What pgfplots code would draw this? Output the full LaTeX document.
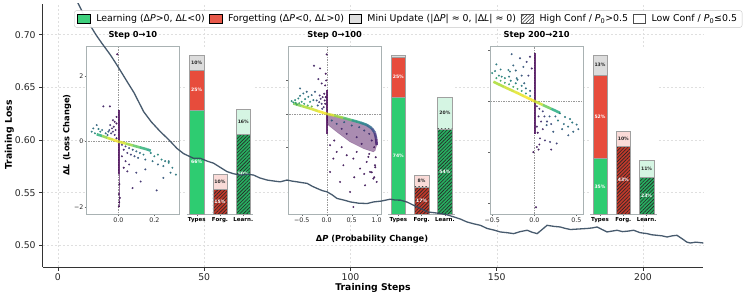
\documentclass[border=0pt]{standalone}
\usepackage{pgfplots}
\pgfplotsset{compat=1.18}
\usepackage{fontspec}
\setmainfont{DejaVu Sans}
\usetikzlibrary{patterns.meta}
\definecolor{cgreen}{HTML}{2ECC71}
\definecolor{cred}{HTML}{E74C3C}
\definecolor{cgray}{HTML}{DCDCDC}
\definecolor{lred}{HTML}{FADBD8}
\definecolor{lgreen}{HTML}{D5F5E3}
\definecolor{dred}{HTML}{C0392B}
\definecolor{dgreen}{HTML}{27AE60}
\definecolor{curvec}{HTML}{34495E}
\definecolor{framec}{HTML}{A9B2B3}
\definecolor{edgec}{HTML}{A0A0A0}
\definecolor{vpurple}{RGB}{68,1,84}
\pgfplotsset{
  inscat/.style={scale only axis, anchor=south west, height=167.3pt,
    axis background/.style={fill=white},
    axis line style={draw=framec, line width=0.9pt},
    tick style={draw=black!60, line width=0.4pt}, tick align=outside, major tick length=2pt, tick pos=left,
    ticklabel style={font=\fontsize{6.3}{7}\selectfont, text=black!85, inner sep=1.2pt},
    colormap={vir}{rgb255=(68,1,84) rgb255=(71,44,122) rgb255=(59,81,139) rgb255=(44,113,142) rgb255=(33,144,141) rgb255=(39,173,129) rgb255=(92,200,99) rgb255=(170,220,50) rgb255=(253,231,37)},
    point meta min=0, point meta max=1,
    title style={font=\bfseries\fontsize{8.3}{10}\selectfont, inner sep=1pt, yshift=0.5pt}},
  insbar/.style={scale only axis, anchor=south west, height=167.3pt, width=66.6pt,
    xmin=-0.43, xmax=2.43, ymin=0, ymax=105.2,
    axis background/.style={fill=white},
    axis x line*=bottom, axis y line=none,
    axis line style={draw=framec, line width=0.9pt},
    xtick={0,1,2}, xticklabels={Types,Forg.,Learn.},
    xticklabel style={font=\bfseries\fontsize{5.5}{6}\selectfont, inner sep=1.2pt},
    tick style={draw=black!60, line width=0.4pt}, tick align=outside, major tick length=2pt},
  mybar/.style={ybar, bar width=0.62, bar shift=0pt, draw=edgec, line width=0.5pt},
  hatch/.style={postaction={pattern={Lines[angle=45,distance=2.5pt,line width=0.6pt]}, pattern color=black!85}},
  scat/.style={scatter, only marks, mark=*, mark size=0.8pt, scatter src=explicit, opacity=0.8},
  band/.style={mesh, point meta=explicit, line width=2.6pt, opacity=0.85},
  zline/.style={draw=gray!80, dash pattern=on 1.5pt off 1pt, line width=0.4pt},
}
\tikzset{pw/.style={font=\bfseries\fontsize{4.6}{5}\selectfont, text=white, inner sep=0pt},
         pk/.style={font=\bfseries\fontsize{4.6}{5}\selectfont, text=black!85, inner sep=0pt}}
\begin{document}
\begin{tikzpicture}[x=1pt,y=1pt]
\useasboundingbox (0,0) rectangle (753,298);
% ---------- main axis (background) ----------
\begin{axis}[at={(42.7pt,31pt)}, anchor=south west, scale only axis, width=660.6pt, height=263pt,
  xmin=-5.2, xmax=220.6, ymin=0.4794, ymax=0.7292,
  axis x line*=bottom, axis y line*=left,
  axis line style={draw=black!80, line width=0.8pt},
  xtick={0,50,100,150,200}, xticklabels={0,50,100,150,200},
  ytick={0.5,0.55,0.6,0.65,0.7}, yticklabels={0.50,0.55,0.60,0.65,0.70},
  tick style={draw=black!80, line width=0.8pt}, tick align=outside, major tick length=3.5pt,
  ticklabel style={font=\fontsize{9.3}{11}\selectfont, text=black!85},
  grid=major, major grid style={draw=gray!25, dash pattern=on 2pt off 2pt, line width=0.5pt}]
\end{axis}
\node[rotate=90, font=\bfseries\fontsize{9.3}{11}\selectfont] at (9.3,163) {Training Loss};
\node[font=\bfseries\fontsize{9.3}{11}\selectfont] at (373,9.7) {Training Steps};
% ---------- inset 1 scatter ----------
\begin{axis}[inscat, at={(86.7pt,84pt)}, width=92.3pt,
  xmin=-0.1756, xmax=0.337, ymin=-2.21, ymax=2.89,
  xtick={0,0.2}, xticklabels={0.0,0.2}, ytick={-2,0,2}, yticklabels={−2,0,2},
  title={Step 0→10}]
\addplot[zline] coordinates {(-1,0) (1,0)};
\addplot[zline] coordinates {(0,-5) (0,5)};
\addplot[draw=vpurple, line width=1.8pt, opacity=0.8] coordinates {(0.004,0.95) (0.004,-1.0)};
\addplot[draw=vpurple, line width=1.0pt, opacity=0.6] coordinates {(0.004,-1.0) (0.004,-2.0)};
\addplot[band] table[meta index=2] {
x y c
-0.12 0.22 0.55
-0.09 0.17 0.75
-0.06 0.11 0.9
-0.03 0.055 0.97
0 0 1.0
0.04 -0.06 0.9
0.08 -0.12 0.8
0.12 -0.18 0.7
0.16 -0.24 0.6
0.18 -0.28 0.55
};
\addplot[scat] table[meta index=2] {
x y c
-0.006 2.66 0.02
-0.01 0.1 0.1
-0.02 0.2 0.12
-0.015 0.35 0.08
-0.03 0.3 0.15
-0.04 0.25 0.2
-0.025 0.45 0.1
-0.035 0.4 0.12
-0.05 0.35 0.25
-0.045 0.5 0.15
-0.01 0.55 0.05
-0.02 0.6 0.06
-0.055 0.3 0.3
-0.06 0.2 0.35
-0.07 0.25 0.4
-0.083 1.07 0.1
-0.047 1.07 0.08
-0.01 0.75 0.05
-0.03 0.65 0.1
-0.148 0.3 0.45
-0.139 0.4 0.4
-0.12 0.5 0.35
-0.1 0.3 0.5
-0.13 0.25 0.55
-0.11 0.38 0.45
-0.09 0.35 0.4
0.02 -0.1 0.15
0.04 -0.15 0.2
0.03 -0.25 0.1
0.06 -0.2 0.25
0.05 -0.35 0.15
0.08 -0.25 0.3
0.07 -0.4 0.2
0.1 -0.3 0.35
0.09 -0.45 0.25
0.12 -0.35 0.4
0.11 -0.5 0.3
0.14 -0.4 0.45
0.15 -0.55 0.35
0.02 -0.45 0.08
0.04 -0.6 0.1
0.06 -0.7 0.12
0.03 -0.8 0.06
0.18 -0.35 0.5
0.2 -0.45 0.5
0.22 -0.4 0.55
0.24 -0.55 0.5
0.26 -0.6 0.45
0.28 -0.65 0.5
0.3 -0.8 0.45
0.25 -0.75 0.4
0.32 -1.01 0.45
0.29 -0.95 0.4
0.22 -0.7 0.35
0.19 -0.6 0.4
0.213 -1.49 0.2
0.124 -1.22 0.15
0.05 -0.91 0.1
0.079 -1.42 0.1
0.25 -1.11 0.3
0.28 -0.6 0.45
0.009 -1.72 0.05
0.1 -0.95 0.2
0.15 -0.85 0.25
0.006 -1.3 0.03
0.003 -1.6 0.03
0.005 -1.85 0.02
0.003 -1.98 0.02
};
\end{axis}
% ---------- inset 1 bars ----------
\begin{axis}[insbar, at={(186.7pt,84pt)}]
\addplot[mybar, fill=cgray] coordinates {(0,100)};
\addplot[mybar, fill=cred] coordinates {(0,90.2)};
\addplot[mybar, fill=cgreen] coordinates {(0,65.5)};
\addplot[mybar, fill=lred] coordinates {(1,25.1)};
\addplot[mybar, fill=dred, hatch] coordinates {(1,15.3)};
\addplot[mybar, fill=lgreen] coordinates {(2,65.9)};
\addplot[mybar, fill=dgreen, hatch] coordinates {(2,50.2)};
\node[pw] at (axis cs:0,32.75) {66\%};
\node[pw] at (axis cs:0,77.85) {25\%};
\node[pk] at (axis cs:0,95.1) {10\%};
\node[pw] at (axis cs:1,7.65) {15\%};
\node[pk] at (axis cs:1,20.2) {10\%};
\node[pw] at (axis cs:2,25.1) {50\%};
\node[pk] at (axis cs:2,58.05) {16\%};
\end{axis}
% ---------- inset 2 scatter ----------
\begin{axis}[inscat, at={(288.3pt,84pt)}, width=92.7pt,
  xmin=-0.768, xmax=1.086, ymin=-3.0, ymax=2.01,
  xtick={-0.5,0,0.5,1}, xticklabels={−0.5,0.0,0.5,1.0}, ytick={-2,-1,0,1}, yticklabels={},
  title={Step 0→100}]
\addplot[zline] coordinates {(-2,0) (2,0)};
\addplot[zline] coordinates {(0,-5) (0,5)};
\addplot[fill=vpurple, fill opacity=0.45, draw=vpurple, draw opacity=0.3] coordinates {
(0.013,-0.02) (0.333,-0.12) (0.6,-0.22) (0.8,-0.32) (0.933,-0.49) (0.987,-0.69) (1.0,-0.94)
(0.97,-1.1) (0.933,-1.14) (0.733,-1.04) (0.467,-0.84) (0.2,-0.54) (0.033,-0.34) (0,-0.14)} -- cycle;
\addplot[draw=vpurple, line width=1.6pt, opacity=0.8] coordinates {(0.005,0.71) (0.005,-0.6)};
\addplot[band] table[meta index=2] {
x y c
-0.667 0.31 0.75
-0.5 0.235 0.85
-0.33 0.16 0.92
-0.17 0.08 0.97
0 0 1
0.15 -0.05 0.9
0.33 -0.12 0.8
0.5 -0.19 0.65
0.67 -0.26 0.5
0.8 -0.33 0.4
0.9 -0.43 0.3
0.96 -0.56 0.2
0.99 -0.75 0.12
1.0 -0.94 0.05
};
\addplot[scat] table[meta index=2] {
x y c
0 1.78 0.05
-0.253 1.44 0.1
-0.133 1.36 0.08
-0.167 1.04 0.1
-0.1 0.91 0.08
-0.02 1.2 0.03
-0.01 1.0 0.04
-0.03 0.85 0.05
-0.05 0.6 0.05
-0.08 0.5 0.08
-0.12 0.45 0.12
-0.04 0.4 0.06
-0.1 0.3 0.15
-0.15 0.35 0.2
-0.06 0.2 0.1
-0.18 0.25 0.3
-0.2 0.4 0.25
-0.14 0.55 0.15
-0.03 0.3 0.05
-0.02 0.5 0.04
-0.09 0.15 0.2
-0.667 0.34 0.6
-0.633 0.41 0.55
-0.6 0.28 0.7
-0.567 0.46 0.5
-0.533 0.54 0.45
-0.5 0.36 0.6
-0.467 0.61 0.4
-0.533 0.76 0.35
-0.433 0.44 0.5
-0.4 0.66 0.35
-0.367 0.51 0.45
-0.3 0.56 0.35
-0.267 0.41 0.45
-0.333 0.36 0.55
-0.233 0.66 0.3
-0.7 0.38 0.55
-0.62 0.33 0.65
-0.45 0.3 0.65
-0.38 0.25 0.75
-0.3 0.22 0.8
-0.55 0.32 0.7
0.1 -0.2 0.3
0.2 -0.3 0.25
0.35 -0.25 0.35
0.5 -0.35 0.3
0.65 -0.4 0.25
0.75 -0.5 0.2
0.85 -0.6 0.15
0.9 -0.8 0.1
0.95 -1.0 0.05
0.6 -0.7 0.1
0.4 -0.6 0.1
0.3 -0.45 0.12
0.7 -0.9 0.08
0.85 -1.2 0.05
0.98 -1.3 0.05
1.0 -2.04 0.05
0.933 -1.94 0.05
0.867 -1.74 0.05
0.967 -1.54 0.05
0.8 -1.44 0.05
0.667 -1.64 0.05
0.533 -1.34 0.05
0.4 -1.24 0.05
0.333 -1.54 0.05
0.2 -1.14 0.05
0.133 -1.34 0.05
0.067 -0.94 0.05
0.533 -2.79 0.05
0.267 -2.04 0.05
0.467 -2.34 0.05
0.767 -2.14 0.05
0.067 -1.74 0.05
0.833 -1.29 0.05
0.6 -1.14 0.05
0.9 -1.75 0.05
0.95 -1.9 0.05
0.75 -1.8 0.05
0.55 -1.9 0.05
0.3 -1.0 0.05
0.15 -0.8 0.05
0.97 -1.6 0.05
};
\end{axis}
% ---------- inset 2 bars ----------
\begin{axis}[insbar, at={(388.3pt,84pt)}]
\addplot[mybar, fill=cgray] coordinates {(0,100)};
\addplot[mybar, fill=cred] coordinates {(0,98.3)};
\addplot[mybar, fill=cgreen] coordinates {(0,73.6)};
\addplot[mybar, fill=lred] coordinates {(1,24.6)};
\addplot[mybar, fill=dred, hatch] coordinates {(1,17.0)};
\addplot[mybar, fill=lgreen] coordinates {(2,73.4)};
\addplot[mybar, fill=dgreen, hatch] coordinates {(2,53.6)};
\node[pw] at (axis cs:0,36.8) {74\%};
\node[pw] at (axis cs:0,85.95) {25\%};
\node[pw] at (axis cs:1,8.5) {17\%};
\node[pk] at (axis cs:1,20.8) {8\%};
\node[pw] at (axis cs:2,26.8) {54\%};
\node[pk] at (axis cs:2,63.5) {20\%};
\end{axis}
% ---------- inset 3 scatter ----------
\begin{axis}[inscat, at={(490pt,84pt)}, width=93.3pt,
  xmin=-0.526, xmax=0.581, ymin=-2.213, ymax=1.067,
  xtick={-0.5,0,0.5}, xticklabels={−0.5,0.0,0.5}, ytick={-2,-1,0,1}, yticklabels={},
  title={Step 200→210}]
\addplot[zline] coordinates {(-2,0) (2,0)};
\addplot[zline] coordinates {(0,-5) (0,5)};
\addplot[draw=vpurple, line width=1.6pt, opacity=0.8] coordinates {(0.005,0.95) (0.005,-0.65)};
\addplot[band] table[meta index=2] {
x y c
-0.486 0.38 0.85
-0.36 0.28 0.9
-0.24 0.19 0.95
-0.12 0.095 0.98
0 0 1
0.1 -0.075 0.85
0.2 -0.15 0.7
0.304 -0.23 0.55
};
\addplot[scat] table[meta index=2] {
x y c
-0.45 0.45 0.65
-0.4 0.4 0.7
-0.35 0.36 0.7
-0.3 0.33 0.65
-0.25 0.28 0.7
-0.2 0.24 0.7
-0.15 0.2 0.65
-0.1 0.15 0.6
-0.05 0.1 0.5
-0.42 0.5 0.55
-0.35 0.45 0.55
-0.28 0.4 0.5
-0.22 0.35 0.5
-0.15 0.3 0.45
-0.1 0.25 0.4
-0.05 0.2 0.3
-0.3 0.48 0.45
-0.2 0.42 0.4
-0.12 0.35 0.35
-0.466 0.59 0.5
-0.387 0.48 0.5
-0.308 0.61 0.45
-0.29 0.58 0.45
-0.269 0.92 0.3
-0.209 0.45 0.4
-0.17 0.84 0.25
-0.13 0.67 0.3
-0.051 0.87 0.15
-0.091 0.77 0.2
-0.03 0.64 0.1
-0.07 0.5 0.2
-0.15 0.5 0.3
-0.25 0.7 0.35
-0.4 0.62 0.45
-0.5 0.55 0.55
-0.45 0.72 0.45
-0.22 0.6 0.35
0.304 -0.24 0.5
0.364 -0.31 0.45
0.423 -0.35 0.45
0.502 -0.46 0.4
0.522 -0.55 0.35
0.462 -0.6 0.35
0.403 -0.67 0.3
0.265 -0.83 0.2
0.186 -0.8 0.2
0.126 -0.77 0.15
0.067 -0.73 0.1
0.225 -0.6 0.3
0.146 -0.47 0.3
0.35 -0.45 0.4
0.28 -0.38 0.45
0.4 -0.5 0.4
0.45 -0.42 0.45
0.33 -0.55 0.35
0.03 -0.1 0.1
0.06 -0.15 0.15
0.1 -0.2 0.2
0.05 -0.3 0.1
0.12 -0.3 0.2
0.18 -0.3 0.3
0.08 -0.4 0.12
0.15 -0.4 0.2
0.03 -0.5 0.08
0.1 -0.55 0.1
0.2 -0.45 0.25
0.25 -0.3 0.35
0.04 -0.62 0.05
0.06 -0.85 0.05
-0.012 -1.0 0.05
0.02 -2.08 0.05
0.03 -0.9 0.05
0.05 -0.95 0.05
0.2 -0.95 0.1
};
\end{axis}
% ---------- inset 3 bars ----------
\begin{axis}[insbar, at={(590pt,84pt)}]
\addplot[mybar, fill=cgray] coordinates {(0,100)};
\addplot[mybar, fill=cred] coordinates {(0,87.0)};
\addplot[mybar, fill=cgreen] coordinates {(0,34.8)};
\addplot[mybar, fill=lred] coordinates {(1,52.1)};
\addplot[mybar, fill=dred, hatch] coordinates {(1,42.5)};
\addplot[mybar, fill=lgreen] coordinates {(2,34.1)};
\addplot[mybar, fill=dgreen, hatch] coordinates {(2,23.2)};
\node[pw] at (axis cs:0,17.4) {35\%};
\node[pw] at (axis cs:0,60.9) {52\%};
\node[pk] at (axis cs:0,93.5) {13\%};
\node[pw] at (axis cs:1,21.25) {43\%};
\node[pk] at (axis cs:1,47.3) {10\%};
\node[pw] at (axis cs:2,11.6) {23\%};
\node[pk] at (axis cs:2,28.65) {11\%};
\end{axis}
% shared inset labels
\node[rotate=90, font=\bfseries\fontsize{8.3}{10}\selectfont] at (67,163) {Δ\textit{L} (Loss Change)};
\node[font=\bfseries\fontsize{8.3}{10}\selectfont] at (372,59) {Δ\textit{P} (Probability Change)};
% ---------- overlay axis: curve + legend ----------
\begin{axis}[at={(42.7pt,31pt)}, anchor=south west, scale only axis, width=660.6pt, height=263pt,
  xmin=-5.2, xmax=220.6, ymin=0.4794, ymax=0.7292, axis lines=none, xtick=\empty, ytick=\empty,
  legend image code/.code={\draw[sharp corners, #1] (0pt,-4.3pt) rectangle (12.6pt,4.3pt); \path (16.6pt,0pt);},
  legend style={at={(0.0478,0.943)}, anchor=west, legend columns=5, draw=gray!45, rounded corners=2pt,
    fill=white, fill opacity=0.92, text opacity=1, font=\fontsize{9.4}{11}\selectfont,
    inner xsep=3pt, inner ysep=2pt, /tikz/every even column/.append style={column sep=2.5pt}},
  legend cell align=left]
\addplot[curvec, line width=1.3pt, opacity=0.9, forget plot] table {
x y
0 0.760
3 0.748
6 0.735
9 0.718
10.9 0.7095
13 0.700
15 0.692
17.9 0.681
20 0.672
22 0.663
23.65 0.6555
26 0.645
29.3 0.627
32 0.617
35 0.608
38 0.600
40.7 0.592
43 0.587
46.4 0.5826
48.7 0.5826
51 0.580
53.2 0.578
55.5 0.574
57.8 0.570
60 0.568
62.4 0.5667
65 0.5675
66.9 0.5667
69 0.564
71.5 0.562
74 0.561
76 0.5603
78.3 0.562
80 0.561
81.75 0.5603
83.5 0.5595
85.2 0.5588
87 0.556
88.6 0.554
90.3 0.552
92 0.5508
93.7 0.548
95.4 0.5445
97.7 0.543
100 0.5412
102.8 0.540
105.7 0.5397
107.9 0.5412
110.5 0.542
113.6 0.5438
115.3 0.543
117.1 0.5429
119.4 0.541
121.6 0.538
124 0.535
126.2 0.5317
128.5 0.531
130.7 0.5302
133 0.529
135.3 0.527
137.5 0.525
139.8 0.5222
142 0.5205
144.4 0.519
146.7 0.516
149 0.5145
151.2 0.5127
153.5 0.512
155.8 0.5111
158 0.513
160.4 0.5143
162 0.5125
163.8 0.5111
165.5 0.515
167.2 0.519
169.5 0.518
171.7 0.5174
173.5 0.516
175.2 0.515
178 0.5155
180.9 0.516
182.6 0.5165
184.3 0.5174
186 0.515
187.7 0.5127
189.4 0.5135
191.1 0.5143
193 0.513
194.9 0.5135
196.8 0.5143
199 0.512
201.4 0.5111
203 0.510
204.8 0.5095
206.5 0.509
208.2 0.5079
210 0.509
211.6 0.5095
213.5 0.506
215 0.503
216.2 0.5022
218 0.503
220.7 0.5022
};
\addlegendimage{fill=cgreen, draw=none}
\addlegendentry{Learning (Δ\textit{P}>0, Δ\textit{L}<0)}
\addlegendimage{fill=cred, draw=none}
\addlegendentry{Forgetting (Δ\textit{P}<0, Δ\textit{L}>0)}
\addlegendimage{fill=cgray, draw=none}
\addlegendentry{Mini Update (|Δ\textit{P}| ≈ 0, |Δ\textit{L}| ≈ 0)}
\addlegendimage{fill=white, draw=black!70, postaction={pattern={Lines[angle=45,distance=2.5pt,line width=0.6pt]}, pattern color=black!80}}
\addlegendentry{High Conf / \textit{P}\textsubscript{0}>0.5}
\addlegendimage{fill=white, draw=black!70}
\addlegendentry{Low Conf / \textit{P}\textsubscript{0}≤0.5}
\end{axis}
\end{tikzpicture}
\end{document}
